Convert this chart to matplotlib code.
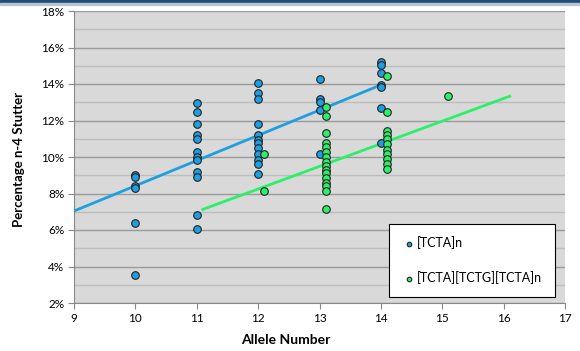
import matplotlib.pyplot as plt
import matplotlib.patches as mpatches
import numpy as np
from matplotlib.ticker import MultipleLocator, FuncFormatter

plt.rcParams['font.family'] = ['Lato', 'DejaVu Sans']

# ---------------------------------- DATA -------------------------------------#
tcta_x = [10] * 6 + [11] * 12 + [12] * 12 + [13] * 5 + [14] * 7
tcta_y = [9.0, 8.9, 8.4, 8.3, 6.4, 3.55,
          12.96, 12.47, 11.79, 11.22, 10.97, 10.27, 10.02, 9.81, 9.16, 8.88, 6.81, 6.08,
          14.05, 13.53, 13.18, 11.81, 11.21, 10.93, 10.74, 10.47, 10.14, 9.84, 9.62, 9.07,
          14.26, 13.16, 13.03, 12.58, 10.15,
          15.18, 15.04, 14.60, 13.95, 13.84, 12.71, 10.79]

comp_x = [12.1] * 2 + [13.1] * 16 + [14.1] * 11 + [15.1]
comp_y = [10.15, 8.15,
          12.76, 12.25, 11.30, 10.75, 10.56, 10.29, 10.02, 9.74, 9.51, 9.29, 9.11, 8.83, 8.59,
          8.41, 8.16, 7.17,
          14.42, 12.47, 11.42, 11.21, 11.01, 10.71, 10.38, 10.15, 9.89, 9.62, 9.33,
          13.34]

labels = ['[TCTA]n', '[TCTA][TCTG][TCTA]n']

# trend line end points (Excel linear trendline)
tcta_trend_x = [9, 14]
tcta_trend_y = [7.04, 13.95]
comp_trend_x = [11.1, 16.1]
comp_trend_y = [7.13, 13.33]

BLUE = '#1f9fdf'
GREEN = '#2cef6a'

# --------------------------------- FIGURE ------------------------------------#
fig = plt.figure(figsize=(5.8, 3.51), dpi=100)
ax = fig.add_axes([74 / 580, 1 - 303 / 351, (565 - 74) / 580, (303 - 11) / 351])
ax.set_facecolor('#d9d9d9')

# header bar
fig.patches.append(mpatches.Rectangle((0, 1 - 3 / 351), 1, 3 / 351, transform=fig.transFigure,
                                      color='#1f4e79', zorder=5))
fig.patches.append(mpatches.Rectangle((0, 1 - 5 / 351), 1, 2 / 351, transform=fig.transFigure,
                                      color='#b8c4d0', zorder=5))

ax.plot(tcta_trend_x, tcta_trend_y, color=BLUE, lw=2, zorder=3)
ax.plot(comp_trend_x, comp_trend_y, color=GREEN, lw=2, zorder=3)
ax.scatter(tcta_x, tcta_y, s=30, c=BLUE, edgecolors='#222222', linewidths=0.8, zorder=4,
           label=labels[0])
ax.scatter(comp_x, comp_y, s=30, c=GREEN, edgecolors='#222222', linewidths=0.8, zorder=4,
           label=labels[1])

ax.set_xlim(9, 17)
ax.set_ylim(2, 18)
ax.xaxis.set_major_locator(MultipleLocator(1))
ax.yaxis.set_major_locator(MultipleLocator(2))
ax.yaxis.set_minor_locator(MultipleLocator(1))
ax.yaxis.set_major_formatter(FuncFormatter(lambda v, p: f'{v:.0f}%'))
ax.grid(axis='y', which='major', color='#9a9a9a', lw=1)
ax.grid(axis='y', which='minor', color='#bdbdbd', lw=1)
ax.set_axisbelow(True)
ax.tick_params(axis='y', which='minor', length=0)
ax.tick_params(which='major', length=4, color='#888888', labelsize=8.5, pad=3)

for s in ['top', 'right']:
    ax.spines[s].set_visible(False)
for s in ['left', 'bottom']:
    ax.spines[s].set_color('#888888')

ax.set_xlabel('Allele Number', fontweight='bold', fontsize=10)
ax.set_ylabel('Percentage n-4 Stutter', fontweight='bold', fontsize=9.5)
ax.xaxis.set_label_coords(0.432, -0.106)
ax.yaxis.set_label_coords(-0.1, 0.49)

leg = ax.legend(loc='lower right', bbox_to_anchor=(555 / 580, 1 - 297 / 351),
                bbox_transform=fig.transFigure, fancybox=False, edgecolor='black',
                framealpha=1, fontsize=9, markerscale=0.6, handletextpad=0.1,
                labelspacing=1.8, borderpad=1.0, handlelength=1.2, borderaxespad=0)
leg.get_frame().set_linewidth(0.8)

fig.savefig('out.png', dpi=100)
